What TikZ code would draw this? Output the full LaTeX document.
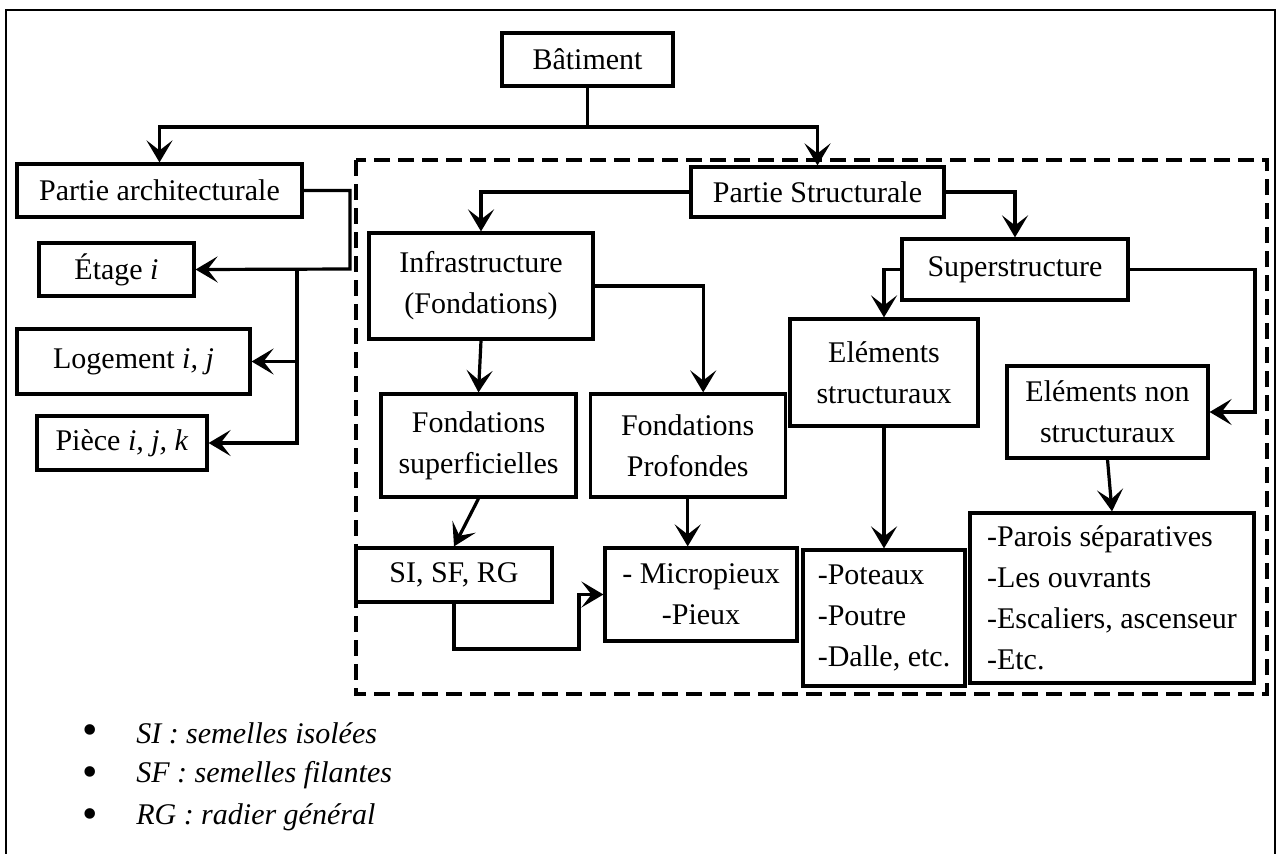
\documentclass[tikz,border=0pt]{standalone}
\usepackage{fontspec}
\setmainfont{Liberation Serif}
\usetikzlibrary{positioning, arrows.meta, calc}

\begin{document}
\begin{tikzpicture}[x=0.5pt, y=-0.5pt, line width=1.6pt,
		bloc/.style={draw, rectangle, align=center, inner sep=0pt, font=\fontsize{15}{20.5}\selectfont},
		dim/.style 2 args={minimum width=#1*0.5pt, minimum height=#2*0.5pt},
		fl/.style={-{Stealth[length=11pt, width=13pt, inset=5pt]}},
		legende/.style={anchor=west, font=\fontsize{15}{17}\selectfont\itshape},
		puce/.style={anchor=center, font=\fontsize{22}{22}\selectfont}]
		\useasboundingbox (0,0) rectangle (1278,853);
		\draw[line width=1pt] (6,870) -- (6,10) -- (1275,10) -- (1275,870);
		\draw[dash pattern=on 8pt off 4pt] (356,160) rectangle (1267,694);
		
		\node[bloc, dim={171}{53}] (bat) at (587.5,59.5) {Bâtiment};
		\node[bloc, dim={285}{53}] (archi) at (159.5,190.5) {Partie architecturale};
		\node[bloc, dim={253}{50}] (struct) at (817.5,192) {Partie Structurale};
		\node[bloc, dim={155}{53}] (etage) at (116.5,269.5) {Étage \textit{i}};
		\node[bloc, dim={233}{65}] (loge) at (133.5,361.5) {Logement \textit{i, j}};
		\node[bloc, dim={170}{54}] (piece) at (122,443) {Pièce \textit{i, j, k}};
		\node[bloc, dim={224}{106}] (infra) at (481,286) {Infrastructure\\(Fondations)};
		\node[bloc, dim={195}{103}] (fsup) at (478.5,445.5) {Fondations\\superficielles};
		\node[bloc, dim={195}{103}, right=11 of fsup] (fprof) {Fondations\\Profondes};
		\node[bloc, dim={226}{61}] (sup) at (1015,269.5) {Superstructure};
		\node[bloc, dim={188}{107}] (estr) at (884,372.5) {Eléments\\structuraux};
		\node[bloc, dim={201}{92}] (enon) at (1107.5,412) {Eléments non\\structuraux};
		\node[bloc, dim={196}{54}] (srg) at (454,575) {SI, SF, RG};
		\node[bloc, dim={192}{93}] (micro) at (701,594.5) {- Micropieux\\-Pieux};
		\node[bloc, dim={162}{136}, align=left] (lstr) at (884,618) {-Poteaux\\-Poutre\\-Dalle, etc.};
		\node[bloc, dim={284}{170}, align=left] (lnon) at (1112,598) {-Parois séparatives\\-Les ouvrants\\-Escaliers, ascenseur\\-Etc.};
		
		\coordinate (split) at (587.5,127);
		\coordinate (ac) at (350,269);
		\coordinate (t1) at (297,269);
		\coordinate (sr) at (1255,412);
		\coordinate (lb) at (579,649);
		
		\draw (bat) -- (split);
		\draw[fl] (split) -| (archi.north);
		\draw[fl] (split) -| (struct.north);
		\draw[fl] (archi.east) -| (ac) -- (etage.east);
		\draw[fl] (t1) |- (loge.east);
		\draw[fl] (t1) |- (piece.east);
		\draw[fl] (struct.west) -| (infra.north);
		\draw[fl] (struct.east) -| (sup.north);
		\draw[fl] (infra.east) -| ($(fprof.north)+(15.5,0)$);
		\draw[fl] (infra.south) -- (fsup.north);
		\draw[fl] (sup.west) -| (estr.north);
		\draw[fl] (sup.east) -| (sr) -- (enon.east);
		\draw[fl] (fsup.south) -- (srg.north);
		\draw[fl] (fprof.south) -- (fprof.south |- micro.north);
		\draw[fl] (estr.south) -- (lstr.north);
		\draw[fl] (enon.south) -- (lnon.north);
		\draw[fl] (srg.south) |- (lb) |- (micro.west);
		
		\node[puce] (p1) at (90,735) {\textbullet};
		\node[puce] (p2) at (90,777) {\textbullet};
		\node[puce] (p3) at (90,819) {\textbullet};
		\node[legende] (l1) at (128,733) {SI : semelles isolées};
		\node[legende] (l2) at (128,775) {SF : semelles filantes};
		\node[legende] (l3) at (128,817) {RG : radier général};
\end{tikzpicture}
\end{document}
